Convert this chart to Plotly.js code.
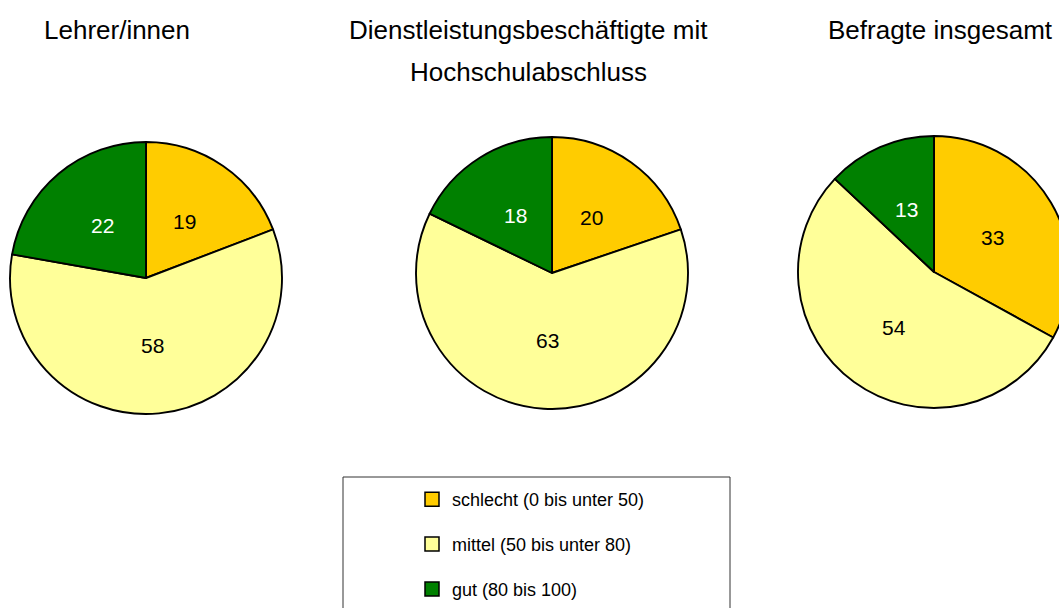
<!DOCTYPE html>
<html>
<head>
<meta charset="utf-8">
<script src="https://cdn.plot.ly/plotly-3.0.1.min.js"></script>
<style>
html,body{margin:0;padding:0;overflow:hidden;background:#fff;width:1059px;height:608px;}
#wrap{width:1059px;height:608px;overflow:hidden;position:relative;}
#chart{width:1080px;height:608px;position:absolute;left:0;top:0;}
</style>
</head>
<body>
<div id="wrap"><div id="chart"></div></div>
<script>
// ---- data ----
var categories = ["schlecht (0 bis unter 50)", "mittel (50 bis unter 80)", "gut (80 bis 100)"];
var colors = ["#FFCC00", "#FFFF99", "#008000"];
var labelColors = ["#000000", "#000000", "#FFFFFF"];
var groupTitles = ["Lehrer/innen", "Dienstleistungsbeschäftigte mit<br>Hochschulabschluss", "Befragte insgesamt"];
var valuesLehrer = [19, 58, 22];
var valuesDienst = [20, 63, 18];
var valuesGesamt = [33, 54, 13];
var groupValues = [valuesLehrer, valuesDienst, valuesGesamt];

// ---- layout constants ----
var W = 1080, H = 608, R = 136;
var FONT = "Liberation Sans, Arial, sans-serif";
var centers = [[146, 278], [552, 273], [934, 272]];
var titleCenters = [117, 528, 940];

var traces = [];
var annotations = [];

groupValues.forEach(function (vals, g) {
  var cx = centers[g][0], cy = centers[g][1];
  traces.push({
    type: "pie",
    values: vals,
    labels: categories,
    sort: false,
    direction: "clockwise",
    rotation: 0,
    textinfo: "none",
    showlegend: false,
    marker: { colors: colors, line: { color: "#000000", width: 1.9 } },
    domain: { x: [(cx - R) / W, (cx + R) / W], y: [(H - cy - R) / H, (H - cy + R) / H] },
    hoverinfo: "label+value"
  });
  // value labels placed along slice bisectors
  var total = vals.reduce(function (a, b) { return a + b; }, 0);
  var cum = 0;
  vals.forEach(function (v, i) {
    var th = 2 * Math.PI * (cum + v / 2) / total;
    cum += v;
    var px = cx + 0.5 * R * Math.sin(th);
    var py = cy - 0.5 * R * Math.cos(th);
    annotations.push({
      xref: "paper", yref: "paper", x: px / W, y: 1 - py / H,
      xanchor: "center", yanchor: "middle", showarrow: false,
      text: String(v), font: { family: FONT, size: 21, color: labelColors[i] }
    });
  });
  // titles
  groupTitles[g].split("<br>").forEach(function (line, k) {
    annotations.push({
      xref: "paper", yref: "paper", x: titleCenters[g] / W, y: 1 - (30 + 42 * k) / H,
      xanchor: "center", yanchor: "middle", showarrow: false,
      text: line, font: { family: FONT, size: 26, color: "#000000" }
    });
  });
});

// legend entries
categories.forEach(function (c, i) {
  traces.push({
    type: "scatter", mode: "markers", x: [null], y: [null],
    name: c, legendgroup: "g" + i, showlegend: true,
    marker: { symbol: "square", size: 14, color: colors[i], line: { color: "#000000", width: 1.5 } },
    hoverinfo: "skip"
  });
});

var layout = {
  width: W, height: H,
  margin: { l: 0, r: 0, t: 0, b: 0, autoexpand: false },
  paper_bgcolor: "#ffffff", plot_bgcolor: "rgba(0,0,0,0)",
  xaxis: { visible: false, range: [0, 1], fixedrange: true },
  yaxis: { visible: false, range: [0, 1], fixedrange: true },
  showlegend: true,
  legend: {
    x: 412 / W, y: 1 - 481 / H, xanchor: "left", yanchor: "top",
    traceorder: "grouped", tracegroupgap: 18.5,
    bgcolor: "rgba(0,0,0,0)", borderwidth: 0,
    font: { family: FONT, size: 18, color: "#000000" }
  },
  annotations: annotations,
  shapes: [{
    type: "rect", xref: "paper", yref: "paper",
    x0: 343 / W, x1: 730 / W, y0: -0.05, y1: 1 - 477 / H,
    line: { color: "#333333", width: 1 }, fillcolor: "rgba(0,0,0,0)", layer: "below"
  }]
};

Plotly.newPlot("chart", traces, layout, { displayModeBar: false, staticPlot: true });
</script>
</body>
</html>
